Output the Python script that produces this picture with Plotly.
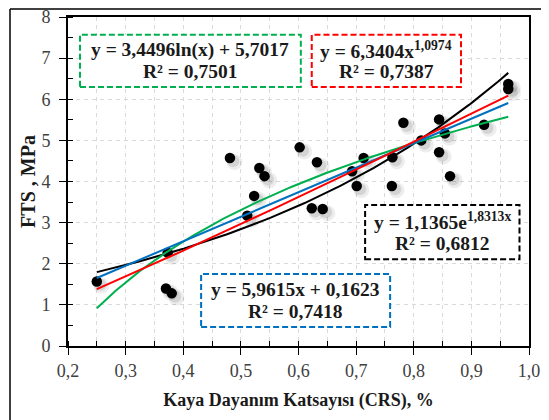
import numpy as np
import plotly.graph_objects as go

# ---- data ----
crs = [0.250, 0.370, 0.380, 0.373, 0.481, 0.532, 0.541, 0.523, 0.511, 0.602,
       0.632, 0.623, 0.642, 0.693, 0.713, 0.701, 0.763, 0.762, 0.813, 0.844,
       0.863, 0.782, 0.844, 0.854, 0.922, 0.964, 0.964]
fts = [1.57, 1.40, 1.28, 2.27, 4.57, 4.33, 4.13, 3.65, 3.17, 4.83,
       4.47, 3.35, 3.33, 4.25, 4.57, 3.89, 4.59, 3.89, 5.00, 4.71,
       4.13, 5.43, 5.51, 5.17, 5.38, 6.37, 6.25]

# trend-line coefficients (from the chart's equations)
exp_a, exp_b = 1.1365, 1.8313
pow_a, pow_b = 6.3404, 1.0974
log_a, log_b = 3.4496, 5.7017
lin_a, lin_b = 5.9615, 0.1623

x_ticks = [0.2, 0.3, 0.4, 0.5, 0.6, 0.7, 0.8, 0.9, 1.0]
x_tick_text = ["0,2", "0,3", "0,4", "0,5", "0,6", "0,7", "0,8", "0,9", "1,0"]
y_ticks = [0, 1, 2, 3, 4, 5, 6, 7, 8]

eq_log = ["y = 3,4496ln(x) + 5,7017", "R² = 0,7501"]
eq_pow = ["y = 6,3404x<sup>1,0974</sup>", "R² = 0,7387"]
eq_exp = ["y = 1,1365e<sup>1,8313x</sup>", "R² = 0,6812"]
eq_lin = ["y = 5,9615x + 0,1623", "R² = 0,7418"]

# ---- figure ----
FONT = "Liberation Serif"
W, H = 541, 412
ML, MR, MT, MB = 60, 20, 9, 74
xs = np.linspace(min(crs), max(crs), 200)

fig = go.Figure()

# soft marker shadow
fig.add_trace(go.Scatter(
    x=[v + 0.008 for v in crs], y=[v - 0.10 for v in fts], mode="markers",
    marker=dict(size=16, color="rgba(0,0,0,0.07)", line=dict(width=0)),
    hoverinfo="skip", showlegend=False))
fig.add_trace(go.Scatter(
    x=[v + 0.006 for v in crs], y=[v - 0.08 for v in fts], mode="markers",
    marker=dict(size=12, color="rgba(0,0,0,0.10)", line=dict(width=0)),
    hoverinfo="skip", showlegend=False))
fig.add_trace(go.Scatter(
    x=crs, y=fts, mode="markers",
    marker=dict(size=10.5, color="black", line=dict(width=0)),
    showlegend=False))

fig.add_trace(go.Scatter(x=xs, y=exp_a * np.exp(exp_b * xs), mode="lines",
                         line=dict(color="black", width=2), showlegend=False))
fig.add_trace(go.Scatter(x=xs, y=log_a * np.log(xs) + log_b, mode="lines",
                         line=dict(color="#00B050", width=2), showlegend=False))
fig.add_trace(go.Scatter(x=xs, y=lin_a * xs + lin_b, mode="lines",
                         line=dict(color="#0070C0", width=2), showlegend=False))
fig.add_trace(go.Scatter(x=xs, y=pow_a * xs ** pow_b, mode="lines",
                         line=dict(color="#FF0000", width=2), showlegend=False))

boxes = [
    (0.2208, 0.604, 6.30, 7.57, "#00B050", eq_log),
    (0.623, 0.882, 6.30, 7.57, "#FF0000", eq_pow),
    (0.7156, 0.9835, 2.11, 3.43, "black", eq_exp),
    (0.431, 0.759, 0.464, 1.75, "#0070C0", eq_lin),
]
for x0, x1, y0, y1, col, lines in boxes:
    fig.add_shape(type="rect", x0=x0, x1=x1, y0=y0, y1=y1, xref="x", yref="y",
                  line=dict(color=col, width=2, dash="6px,3px"), fillcolor="white",
                  layer="above")
    for k, txt in enumerate(lines):
        fig.add_annotation(x=(x0 + x1) / 2, y=(y0 + y1) / 2, xref="x", yref="y",
                           yshift=11 - 22 * k,
                           text="<b>" + txt + "</b>", showarrow=False,
                           font=dict(family=FONT, size=19.5, color="#1a1a1a"),
                           align="center")

# outer frame lines of the picture (left and top edges)
pw, ph = W - ML - MR, H - MT - MB
fx = (2 - ML) / pw
fy = 1 + (MT - 1) / ph
fig.add_shape(type="line", xref="paper", yref="paper", x0=fx, x1=(W - ML) / pw,
              y0=fy, y1=fy, line=dict(color="black", width=1.5), layer="above")
fig.add_shape(type="line", xref="paper", yref="paper", x0=fx, x1=fx,
              y0=-MB / ph, y1=fy, line=dict(color="black", width=1.5), layer="above")

grid = dict(gridcolor="#d9d9d9", griddash="4px,4px", gridwidth=1)
fig.update_xaxes(
    range=[0.2, 1.0], tickvals=x_ticks, ticktext=x_tick_text, automargin=False,
    showline=True, linecolor="black", linewidth=2, mirror=True,
    ticks="outside", ticklen=7, tickcolor="black", tickwidth=1,
    ticklabelstandoff=0, ticklabeloverflow="allow",
    showgrid=False, zeroline=False,
    minor=dict(dtick=0.05, tick0=0.2, ticks="inside", ticklen=5, tickcolor="black",
               showgrid=True, **grid),
    tickfont=dict(family=FONT, size=18, color="#404040"),
    title=dict(text="<b>Kaya Dayanım Katsayısı (CRS), %</b>",
               font=dict(family=FONT, size=18, color="#1a1a1a"), standoff=14),
)
fig.update_yaxes(
    range=[0, 8], tickvals=y_ticks, automargin=False,
    showline=True, linecolor="black", linewidth=2, mirror=True,
    ticks="outside", ticklen=7, tickcolor="black", tickwidth=1,
    ticklabelstandoff=5, ticklabeloverflow="allow",
    showgrid=True, zeroline=False, **grid,
    minor=dict(dtick=0.5, ticks="inside", ticklen=5, tickcolor="black", showgrid=False),
    tickfont=dict(family=FONT, size=18, color="#404040"),
    title=dict(text="<b>FTS , MPa</b>",
               font=dict(family=FONT, size=20, color="#1a1a1a"), standoff=0),
)

fig.update_layout(
    width=W, height=H,
    margin=dict(l=ML, r=MR, t=MT, b=MB),
    paper_bgcolor="white", plot_bgcolor="white",
    showlegend=False,
)

fig.write_html("out.html")
